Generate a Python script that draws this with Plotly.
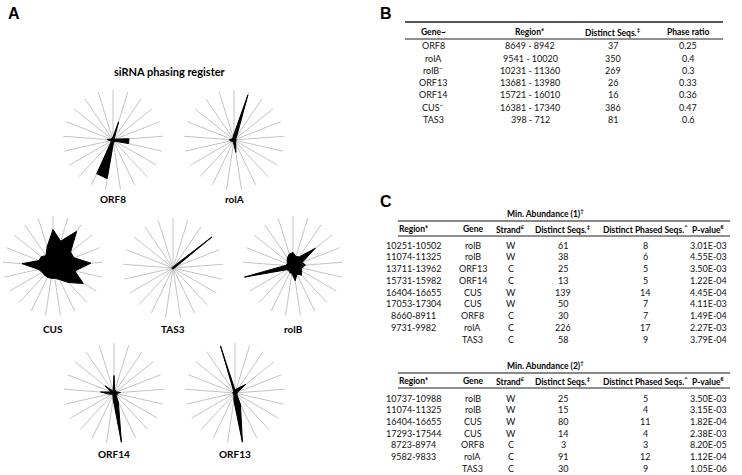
import plotly.graph_objects as go

W, H = 742, 475

# ---------------- radar data (21 phase positions, index 0 at top, clockwise) ----------------
positions = list(range(21))
radar_names = ["ORF8", "rolA", "CUS", "TAS3", "rolB", "ORF14", "ORF13"]
orf8 = [0.06, 0.38, 0.05, 0.04, 0.05, 0.32, 0.32, 0.05, 0.04, 0.05, 0.06, 0.78, 0.75, 0.06, 0.04, 0.06, 0.12, 0.05, 0.04, 0.04, 0.05]
rola = [0.12, 0.94, 0.10, 0.05, 0.04, 0.05, 0.04, 0.04, 0.05, 0.08, 0.25, 0.06, 0.04, 0.04, 0.05, 0.08, 0.09, 0.05, 0.04, 0.05, 0.06]
cus = [0.73, 0.52, 0.84, 0.45, 0.45, 0.76, 0.45, 0.70, 0.45, 0.30, 0.25, 0.25, 0.25, 0.25, 0.25, 0.30, 0.62, 0.30, 0.30, 0.25, 0.40]
tas3 = [0.02, 0.02, 0.06, 1.00, 0.06, 0.02, 0.02, 0.02, 0.02, 0.02, 0.02, 0.02, 0.02, 0.02, 0.02, 0.02, 0.02, 0.02, 0.02, 0.02, 0.02]
rolb = [0.27, 0.20, 0.22, 0.57, 0.20, 0.25, 0.18, 0.20, 0.25, 0.18, 0.30, 0.15, 0.15, 0.12, 0.15, 1.00, 0.15, 0.12, 0.15, 0.20, 0.25]
orf14 = [0.35, 0.05, 0.06, 0.05, 0.06, 0.13, 0.05, 0.08, 0.06, 0.20, 1.00, 0.12, 0.05, 0.04, 0.05, 0.10, 0.27, 0.06, 0.23, 0.05, 0.06]
orf13 = [0.06, 0.08, 0.12, 0.28, 0.06, 0.05, 0.04, 0.05, 0.06, 0.25, 1.00, 0.15, 0.05, 0.04, 0.03, 0.04, 0.05, 0.04, 0.04, 0.05, 0.98]
radar_values = [orf8, rola, cus, tas3, rolb, orf14, orf13]

# ---------------- table B data ----------------
b_header = ["Gene~", "Region*", "Distinct Seqs.<sup>‡</sup>", "Phase ratio"]
b_gene = ["ORF8", "rolA", "rolB<sup>~</sup>", "ORF13", "ORF14", "CUS<sup>~</sup>", "TAS3"]
b_region = ["8649 - 8942", "9541 - 10020", "10231 - 11360", "13681 - 13980", "15721 - 16010", "16381 - 17340", "398 - 712"]
b_distinct = ["37", "350", "269", "26", "16", "386", "81"]
b_phase = ["0.25", "0.4", "0.3", "0.33", "0.36", "0.47", "0.6"]

# ---------------- table C data ----------------
c_header = ["Region*", "Gene", "Strand<sup>£</sup>", "Distinct Seqs.<sup>‡</sup>", "Distinct Phased Seqs.<sup>^</sup>", "P-value<sup>€</sup>"]
c1_title = "Min. Abundance (1)<sup>†</sup>"
c1_region = ["10251-10502", "11074-11325", "13711-13962", "15731-15982", "16404-16655", "17053-17304", "8660-8911", "9731-9982", ""]
c1_gene = ["rolB", "rolB", "ORF13", "ORF14", "CUS", "CUS", "ORF8", "rolA", "TAS3"]
c1_strand = ["W", "W", "C", "C", "W", "W", "C", "C", "C"]
c1_distinct = ["61", "38", "25", "13", "139", "50", "30", "226", "58"]
c1_phased = ["8", "6", "5", "5", "14", "7", "7", "17", "9"]
c1_p = ["3.01E-03", "4.55E-03", "3.50E-03", "1.22E-04", "4.45E-04", "4.11E-03", "1.49E-04", "2.27E-03", "3.79E-04"]

c2_title = "Min. Abundance (2)<sup>†</sup>"
c2_region = ["10737-10988", "11074-11325", "16404-16655", "17293-17544", "8723-8974", "9582-9833", ""]
c2_gene = ["rolB", "rolB", "CUS", "CUS", "ORF8", "rolA", "TAS3"]
c2_strand = ["W", "W", "W", "W", "C", "C", "C"]
c2_distinct = ["25", "15", "80", "14", "3", "91", "30"]
c2_phased = ["5", "4", "11", "4", "3", "12", "9"]
c2_p = ["3.50E-03", "3.15E-03", "1.82E-04", "2.38E-03", "8.20E-05", "1.12E-04", "1.05E-06"]

# ---------------- layout helpers ----------------
def px(x):
    return x / W

def py(y):
    return 1 - y / H

FONT = "Lato, 'Open Sans', sans-serif"
fig = go.Figure()

def text(x, y, s, size=9, bold=False, color="black", family=FONT):
    fig.add_annotation(x=px(x), y=py(y), xref="paper", yref="paper",
                       text=f"<b>{s}</b>" if bold else s, showarrow=False,
                       xanchor="center", yanchor="middle",
                       font=dict(family=family, size=size, color=color))

# radar centers (px) and radius
centers = [(113, 140), (234, 140), (53, 266), (173, 268), (293, 266), (114, 393), (235, 393)]
label_y = [199, 199, 329, 329, 329, 454, 454]
R = 50
step = 360 / 21
thetas = [p * step for p in positions]

for i, (name, vals, (cx, cy)) in enumerate(zip(radar_names, radar_values, centers)):
    key = "polar" if i == 0 else f"polar{i+1}"
    fig.add_trace(go.Scatterpolar(
        r=vals + [vals[0]], theta=thetas + [thetas[0]], mode="lines",
        fill="toself", fillcolor="black", line=dict(color="black", width=1),
        subplot=key, showlegend=False, hoverinfo="skip"))
    fig.layout[key] = dict(
        domain=dict(x=[px(cx - R), px(cx + R)], y=[py(cy + R), py(cy - R)]),
        bgcolor="white",
        radialaxis=dict(visible=False, range=[0, 1]),
        angularaxis=dict(rotation=90, direction="clockwise", tickmode="array",
                         tickvals=thetas, showticklabels=False, ticks="",
                         showline=False, showgrid=True, gridcolor="#c4c4c4", gridwidth=1.1),
    )
    text(cx, label_y[i], name, size=10, bold=True)

# panel letters and title
for letter, (lx, ly) in zip(["A", "B", "C"], [(14, 13), (386, 13), (386, 202)]):
    text(lx, ly, letter, size=16, bold=True, family="Liberation Sans, Arial")
text(170, 71, "siRNA phasing register", size=11, bold=True)

# ---------------- tables (text placed per cell) ----------------
def table(header, columns, xs, y_header, y_first, row_step):
    for h, x in zip(header, xs):
        text(x, y_header, h, size=8.5, bold=True)
    for col, x in zip(columns, xs):
        for j, v in enumerate(col):
            if v != "":
                text(x, y_first + j * row_step, v, size=9, color="#111")

b_x = [433, 530, 613, 688]
c_x = [414, 473, 511, 563, 645, 708]
table(b_header, [b_gene, b_region, b_distinct, b_phase], b_x, 32, 46, 12.2)
table(c_header, [c1_region, c1_gene, c1_strand, c1_distinct, c1_phased, c1_p], c_x, 229, 245, 11.75)
table(c_header, [c2_region, c2_gene, c2_strand, c2_distinct, c2_phased, c2_p], c_x, 381, 398, 11.67)
text(545, 213, c1_title, size=8.5, bold=True)
text(545, 365, c2_title, size=8.5, bold=True)

# table rules
rules = [(405, 723, 22, 2, "#555"), (405, 723, 39, 1, "#222"),
         (398, 730, 221, 2, "#888"), (398, 730, 236, 1, "#222"),
         (398, 730, 373, 2, "#888"), (398, 730, 388, 1, "#222")]
for x0, x1, yy, lw, col in rules:
    fig.add_shape(type="line", xref="paper", yref="paper", x0=px(x0), x1=px(x1), y0=py(yy), y1=py(yy),
                  line=dict(color=col, width=lw))

fig.update_layout(width=W, height=H, margin=dict(l=0, r=0, t=0, b=0),
                  paper_bgcolor="white", plot_bgcolor="white", showlegend=False)

fig.write_html("out.html", config={"displayModeBar": False},
               post_script="document.body.style.margin='0';")
